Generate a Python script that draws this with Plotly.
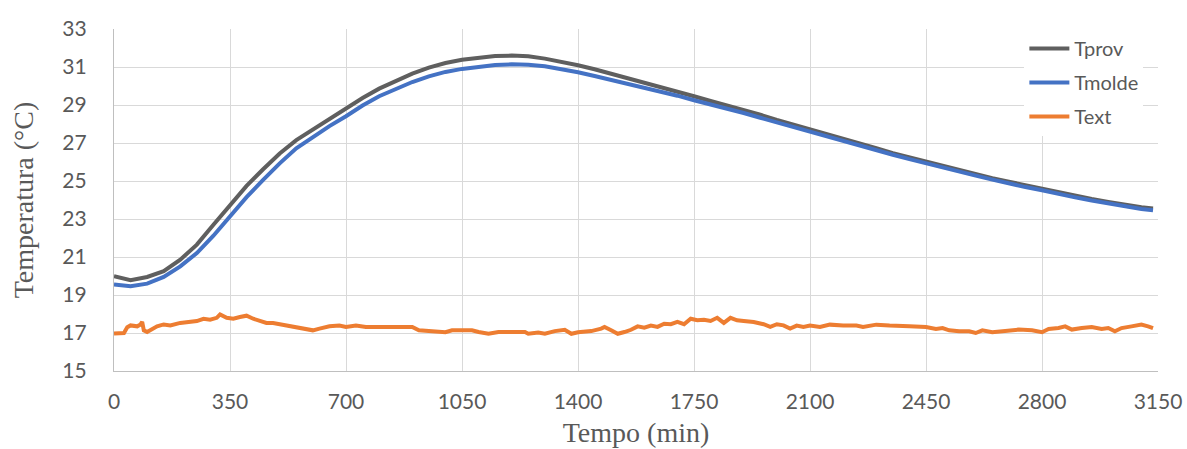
import plotly.graph_objects as go

# Time (min) sample points for the two smooth series
t_smooth = [0, 50, 100, 150, 200, 250, 300, 350, 400, 450, 500, 550, 600, 650, 700, 750,
            800, 850, 900, 950, 1000, 1050, 1100, 1150, 1200, 1250, 1300, 1350, 1400, 1450,
            1500, 1550, 1600, 1650, 1700, 1750, 1800, 1850, 1900, 1950, 2000, 2050, 2100,
            2150, 2200, 2250, 2300, 2350, 2400, 2450, 2500, 2550, 2600, 2650, 2700, 2750,
            2800, 2850, 2900, 2950, 3000, 3050, 3100, 3135]

tprov = [19.99, 19.78, 19.95, 20.25, 20.86, 21.65, 22.70, 23.75, 24.74, 25.62, 26.45, 27.15,
         27.71, 28.26, 28.80, 29.37, 29.86, 30.27, 30.65, 30.97, 31.21, 31.38, 31.49, 31.58,
         31.60, 31.56, 31.44, 31.28, 31.09, 30.88, 30.65, 30.42, 30.18, 29.95, 29.68, 29.46,
         29.21, 28.98, 28.72, 28.49, 28.22, 27.98, 27.72, 27.46, 27.25, 26.99, 26.73, 26.46,
         26.24, 26.01, 25.78, 25.59, 25.36, 25.15, 24.96, 24.77, 24.59, 24.40, 24.23, 24.05,
         23.90, 23.74, 23.62, 23.55]

tmolde = [19.55, 19.46, 19.60, 19.95, 20.51, 21.21, 22.12, 23.13, 24.15, 25.06, 25.93, 26.72,
          27.33, 27.89, 28.41, 28.97, 29.46, 29.86, 30.21, 30.51, 30.74, 30.90, 31.00, 31.10,
          31.14, 31.12, 31.04, 30.90, 30.72, 30.53, 30.33, 30.10, 29.91, 29.72, 29.49, 29.25,
          29.04, 28.81, 28.58, 28.33, 28.08, 27.86, 27.60, 27.36, 27.13, 26.88, 26.62, 26.38,
          26.15, 25.92, 25.70, 25.50, 25.28, 25.07, 24.86, 24.68, 24.51, 24.31, 24.14, 23.97,
          23.81, 23.67, 23.53, 23.46]

# External temperature (noisier, sampled more densely)
t_ext = [0, 20, 30, 40, 50, 70, 80, 85, 90, 100, 110, 130, 150, 170, 200, 230, 250, 270, 290,
         310, 320, 340, 360, 380, 400, 420, 440, 460, 480, 500, 520, 550, 580, 600, 620, 650,
         680, 700, 730, 760, 800, 850, 880, 900, 920, 950, 980, 1000, 1020, 1050, 1080, 1100,
         1130, 1160, 1200, 1240, 1250, 1280, 1300, 1330, 1360, 1380, 1400, 1440, 1470, 1480,
         1500, 1520, 1540, 1560, 1580, 1600, 1620, 1640, 1660, 1680, 1700, 1720, 1740, 1760,
         1780, 1800, 1820, 1840, 1860, 1880, 1900, 1930, 1960, 1980, 2000, 2020, 2040, 2060,
         2080, 2100, 2130, 2160, 2200, 2240, 2260, 2300, 2340, 2380, 2400, 2450, 2480, 2500,
         2520, 2550, 2580, 2600, 2620, 2650, 2680, 2700, 2730, 2770, 2800, 2820, 2850, 2870,
         2890, 2920, 2950, 2980, 3000, 3020, 3040, 3070, 3100, 3120, 3135]

text = [16.97, 16.97, 17.00, 17.30, 17.40, 17.35, 17.45, 17.58, 17.14, 17.05, 17.14, 17.35,
        17.45, 17.40, 17.53, 17.56, 17.63, 17.75, 17.70, 17.80, 17.98, 17.80, 17.75, 17.84,
        17.91, 17.75, 17.63, 17.53, 17.53, 17.46, 17.40, 17.32, 17.23, 17.14, 17.23, 17.35,
        17.39, 17.32, 17.39, 17.32, 17.32, 17.32, 17.35, 17.32, 17.14, 17.10, 17.10, 17.04,
        17.14, 17.12, 17.14, 17.05, 16.96, 17.05, 17.05, 17.05, 16.96, 17.02, 16.96, 17.10,
        17.17, 16.96, 17.04, 17.10, 17.23, 17.32, 17.14, 16.96, 17.05, 17.17, 17.35, 17.28,
        17.39, 17.32, 17.49, 17.46, 17.58, 17.46, 17.75, 17.67, 17.70, 17.63, 17.80, 17.53,
        17.80, 17.67, 17.63, 17.58, 17.46, 17.32, 17.46, 17.40, 17.23, 17.39, 17.32, 17.39,
        17.32, 17.44, 17.39, 17.39, 17.32, 17.44, 17.39, 17.39, 17.35, 17.32, 17.21, 17.26,
        17.14, 17.09, 17.09, 17.00, 17.14, 17.04, 17.09, 17.09, 17.18, 17.14, 17.04, 17.21,
        17.26, 17.35, 17.18, 17.26, 17.32, 17.21, 17.26, 17.09, 17.26, 17.35, 17.44, 17.35,
        17.26]

x_ticks = [0, 350, 700, 1050, 1400, 1750, 2100, 2450, 2800, 3150]
y_ticks = [15, 17, 19, 21, 23, 25, 27, 29, 31, 33]

fig = go.Figure()
fig.add_trace(go.Scatter(x=t_smooth, y=tprov, mode="lines", name="Tprov",
                         line=dict(color="#5f5f5f", width=4), legendgroup="a"))
fig.add_trace(go.Scatter(x=t_smooth, y=tmolde, mode="lines", name="Tmolde",
                         line=dict(color="#4472c4", width=4), legendgroup="b"))
fig.add_trace(go.Scatter(x=t_ext, y=text, mode="lines", name="Text",
                         line=dict(color="#ed7d31", width=4), legendgroup="c"))

tick_font = dict(family="Lato, Noto Sans, sans-serif", size=21, color="#595959")
title_font = dict(family="Liberation Serif, Times New Roman, serif", size=28, color="#595959")

fig.update_layout(
    width=1187, height=449,
    margin=dict(l=114, r=29, t=29, b=78),
    paper_bgcolor="white", plot_bgcolor="white",
    showlegend=True,
    legend=dict(x=0.872, y=1.0, xanchor="left", yanchor="top",
                bgcolor="white", borderwidth=0,
                font=dict(family="Lato, Noto Sans, sans-serif", size=20, color="#595959"),
                tracegroupgap=5, itemwidth=40),
    xaxis=dict(range=[0, 3150], tickvals=x_ticks, ticktext=[str(v) for v in x_ticks],
               showgrid=True, gridcolor="#d9d9d9", gridwidth=1.3,
               showline=True, linecolor="#bfbfbf", linewidth=1.3, automargin=False,
               zeroline=False, ticks="", tickfont=tick_font, ticklabelstandoff=12,
               title=dict(text="Tempo (min)", font=title_font, standoff=10)),
    yaxis=dict(range=[15, 33], tickvals=y_ticks, ticktext=[str(v) for v in y_ticks],
               showgrid=True, gridcolor="#d9d9d9", gridwidth=1.3,
               showline=True, linecolor="#bfbfbf", linewidth=1.3, automargin=False,
               zeroline=False, ticks="", tickfont=tick_font, ticklabelstandoff=22,
               title=dict(text="Temperatura (°C)", font=title_font, standoff=20)),
)

fig.write_html("out.html")
